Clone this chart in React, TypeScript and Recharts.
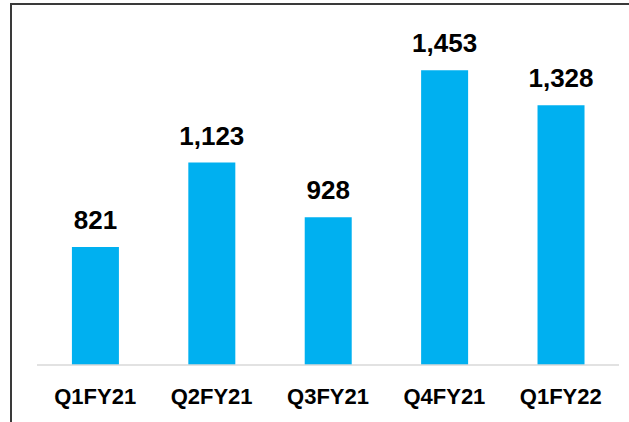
import React from "react";
import { BarChart, Bar, XAxis, YAxis, LabelList } from "recharts";

const quarters = ["Q1FY21", "Q2FY21", "Q3FY21", "Q4FY21", "Q1FY22"];
const values = [821, 1123, 928, 1453, 1328];

const data = quarters.map((q, i) => ({ name: q, value: values[i] }));

const fmt = (v: any) => Number(v).toLocaleString("en-US");

export default function App() {
  return (
    <div
      style={{
        position: "absolute",
        left: 0,
        top: 0,
        width: 629,
        height: 422,
        overflow: "hidden",
        background: "#fff",
        fontFamily: "'Liberation Sans', Arial, sans-serif",
      }}
    >
      <div
        style={{
          position: "absolute",
          left: 10,
          top: 3,
          width: 700,
          height: 500,
          borderTop: "2px solid #3a3a3a",
          borderLeft: "2px solid #3a3a3a",
        }}
      />
      <div style={{ position: "absolute", left: 0, top: 0 }}>
        <BarChart
          width={629}
          height={422}
          data={data}
          margin={{ top: 29, right: 10, bottom: 0, left: 37 }}
          barCategoryGap="30%"
        >
          <YAxis hide domain={[400, 1600]} />
          <XAxis
            dataKey="name"
            height={57}
            axisLine={{ stroke: "#d9d9d9", strokeWidth: 1.5 }}
            tickLine={false}
            tickMargin={17}
            tick={{
              fill: "#000",
              fontSize: 22,
              fontWeight: 700,
              fontFamily: "'Liberation Sans', Arial, sans-serif",
            }}
          />
          <Bar dataKey="value" fill="#00b0f0" isAnimationActive={false}>
            <LabelList
              dataKey="value"
              position="top"
              offset={18}
              formatter={fmt}
              style={{
                fill: "#000",
                fontSize: 26,
                fontWeight: 700,
                fontFamily: "'Liberation Sans', Arial, sans-serif",
              }}
            />
          </Bar>
        </BarChart>
      </div>
    </div>
  );
}
